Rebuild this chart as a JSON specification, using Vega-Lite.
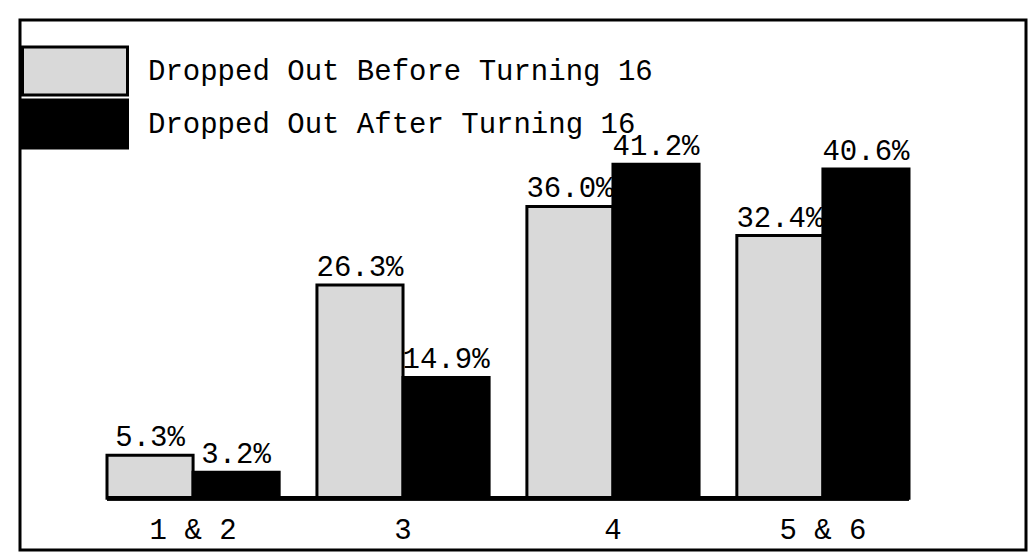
{
  "$schema": "https://vega.github.io/schema/vega-lite/v6.json",
  "width": 1006,
  "height": 530,
  "padding": {"left": 20, "top": 20, "right": 3, "bottom": 10},
  "autosize": {"type": "none"},
  "background": "white",
  "config": {"view": {"stroke": "black", "strokeWidth": 3}, "font": "Liberation Mono"},
  "data": {
    "values": [
      {"grade": "1 & 2", "series": "Dropped Out Before Turning 16", "pct": 5.3},
      {"grade": "1 & 2", "series": "Dropped Out After Turning 16", "pct": 3.2},
      {"grade": "3", "series": "Dropped Out Before Turning 16", "pct": 26.3},
      {"grade": "3", "series": "Dropped Out After Turning 16", "pct": 14.9},
      {"grade": "4", "series": "Dropped Out Before Turning 16", "pct": 36.0},
      {"grade": "4", "series": "Dropped Out After Turning 16", "pct": 41.2},
      {"grade": "5 & 6", "series": "Dropped Out Before Turning 16", "pct": 32.4},
      {"grade": "5 & 6", "series": "Dropped Out After Turning 16", "pct": 40.6}
    ]
  },
  "transform": [{"calculate": "format(datum.pct, '.1f') + '%'", "as": "label"}],
  "encoding": {
    "x": {"field": "grade", "type": "nominal", "sort": ["1 & 2", "3", "4", "5 & 6"], "scale": {"range": [87, 889], "paddingInner": 0.18, "paddingOuter": 0}, "axis": null},
    "y": {"field": "pct", "type": "quantitative", "scale": {"domain": [-6.4, 59], "nice": false, "zero": false}, "axis": null}
  },
  "layer": [
    {
      "mark": {"type": "bar", "stroke": "black", "strokeWidth": 3},
      "encoding": {
        "xOffset": {"field": "series", "type": "nominal", "sort": ["Dropped Out Before Turning 16", "Dropped Out After Turning 16"], "scale": {"paddingInner": 0, "paddingOuter": 0}},
        "y2": {"datum": 0},
        "color": {
          "field": "series", "type": "nominal",
          "scale": {"domain": ["Dropped Out Before Turning 16", "Dropped Out After Turning 16"], "range": ["#d9d9d9", "#000000"]},
          "legend": {
            "orient": "none", "legendX": 36, "legendY": 32, "title": null,
            "symbolType": "M-3,-1.371H3V1.371H-3Z", "symbolSize": 1225,
            "symbolStrokeColor": "black", "symbolStrokeWidth": 3, "symbolOpacity": 1,
            "labelFont": "Liberation Mono", "labelFontSize": 29, "labelColor": "black",
            "labelOffset": 54, "rowPadding": -7, "padding": 0, "labelLimit": 800
          }
        }
      }
    },
    {
      "mark": {"type": "rule", "stroke": "black", "strokeWidth": 4, "x2Offset": 86},
      "encoding": {
        "x": {"datum": "1 & 2", "bandPosition": 0},
        "x2": {"datum": "5 & 6"},
        "y": {"datum": 0}
      }
    },
    {
      "mark": {"type": "text", "fontSize": 29, "baseline": "bottom", "dy": -3, "font": "Liberation Mono", "color": "black"},
      "encoding": {
        "xOffset": {"field": "series", "type": "nominal", "sort": ["Dropped Out Before Turning 16", "Dropped Out After Turning 16"]},
        "text": {"field": "label"}
      }
    },
    {
      "transform": [{"filter": "datum.series == 'Dropped Out Before Turning 16'"}],
      "mark": {"type": "text", "fontSize": 29, "baseline": "middle", "font": "Liberation Mono", "color": "black"},
      "encoding": {
        "y": {"datum": -3.9},
        "text": {"field": "grade"}
      }
    }
  ]
}
